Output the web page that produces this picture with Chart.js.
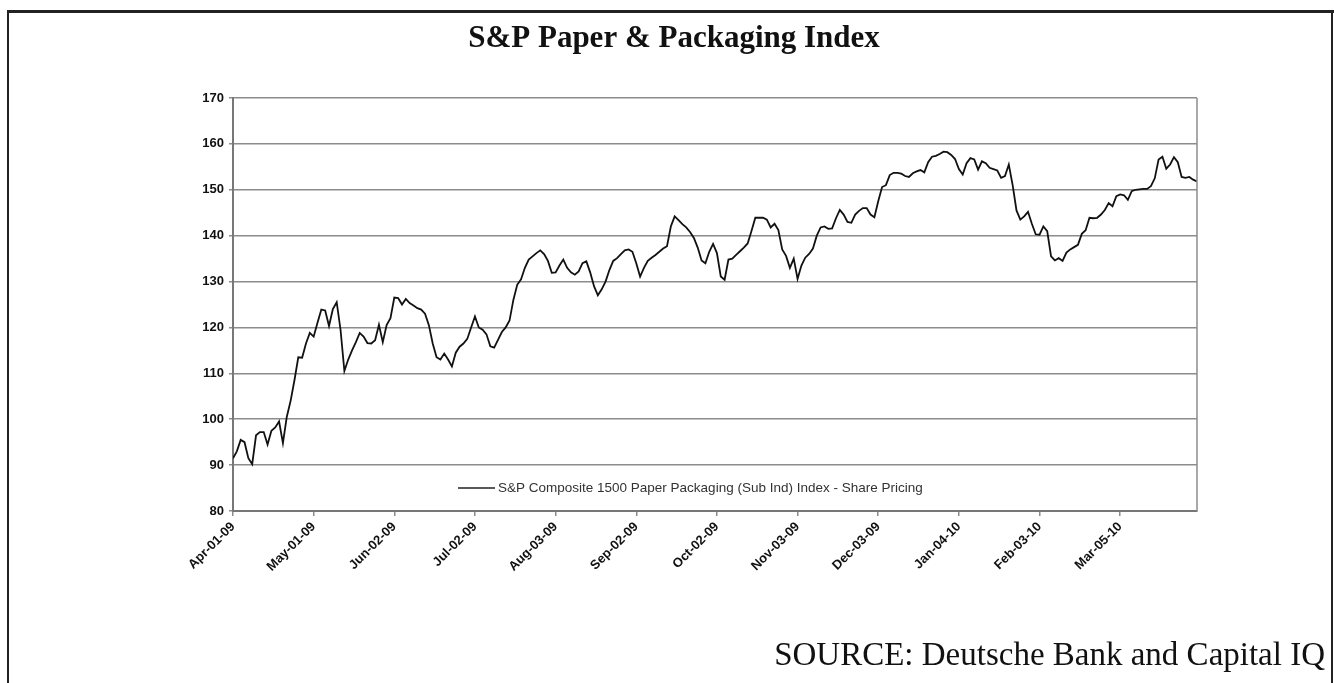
<!DOCTYPE html>
<html>
<head>
<meta charset="utf-8">
<script src="https://cdn.jsdelivr.net/npm/chart.js@4.4.1/dist/chart.umd.min.js"></script>
<style>
  html, body { margin: 0; padding: 0; background: #fff; }
  #wrap { width: 1334px; height: 683px; }
</style>
</head>
<body>
<div id="wrap"><canvas id="chart" width="1334" height="683"></canvas></div>
<script>
// --- DATA ---
const chartTitle = 'S&P Paper & Packaging Index';
const sourceText = 'SOURCE: Deutsche Bank and Capital IQ';
const seriesName = 'S&P Composite 1500 Paper Packaging (Sub Ind) Index - Share Pricing';

// tanggal label sumbu x (tiap 21 hari bursa)
const tickLabels = ['Apr-01-09', 'May-01-09', 'Jun-02-09', 'Jul-02-09', 'Aug-03-09', 'Sep-02-09',
                    'Oct-02-09', 'Nov-03-09', 'Dec-03-09', 'Jan-04-10', 'Feb-03-10', 'Mar-05-10'];
const tickIndex = [0, 21, 42, 63, 84, 105, 126, 147, 168, 189, 210, 231];

const yTicks = [80, 90, 100, 110, 120, 130, 140, 150, 160, 170];

// nilai indeks harian
const indexValues = [
    91.5, 93, 95.5, 95, 91.5, 90.2, 96.5, 97.2, 97.2, 94.5,
    97.5, 98.2, 99.5, 94.8, 100.5, 104, 108.5, 113.5, 113.4, 116.5,
    118.8, 118, 121, 123.9, 123.7, 120.3, 124, 125.5, 119.5, 110.5,
    113, 115, 116.8, 118.8, 118, 116.6, 116.5, 117.2, 120.6, 116.8,
    120.5, 122, 126.5, 126.4, 125, 126.2, 125.3, 124.8, 124.2, 123.9,
    123, 120.5, 116.5, 113.5, 113, 114.3, 113, 111.5, 114.5, 115.8,
    116.5, 117.5, 120, 122.4, 120, 119.5, 118.5, 115.9, 115.6, 117.3,
    119, 120, 121.5, 126, 129.3, 130.5, 133, 134.8, 135.5, 136.2,
    136.8, 136, 134.5, 131.9, 132, 133.5, 134.8, 133, 132, 131.5,
    132.2, 134, 134.4, 132, 129, 127, 128.3, 130, 132.5, 134.5,
    135.1, 136, 136.8, 137, 136.5, 134, 131.1, 133, 134.5, 135.2,
    135.8, 136.5, 137.2, 137.7, 142, 144.2, 143.4, 142.5, 141.8, 140.8,
    139.5, 137.4, 134.6, 134, 136.5, 138.2, 136.2, 131.1, 130.4, 134.8,
    135, 135.8, 136.6, 137.4, 138.3, 141, 143.9, 143.9, 143.9, 143.5,
    141.8, 142.6, 141.2, 137, 135.6, 133, 135, 130.6, 133.5, 135.2,
    136, 137.2, 140, 141.8, 142, 141.5, 141.6, 143.8, 145.6, 144.6,
    143, 142.8, 144.6, 145.4, 146, 146, 144.6, 144, 147.5, 150.6,
    151, 153.2, 153.7, 153.7, 153.5, 153, 152.8, 153.6, 154, 154.3,
    153.8, 156, 157.2, 157.4, 157.8, 158.3, 158.2, 157.6, 156.7, 154.5,
    153.3, 155.8, 156.9, 156.6, 154.4, 156.2, 155.8, 154.8, 154.5, 154.2,
    152.6, 153, 155.5, 151, 145.5, 143.5, 144.2, 145.2, 142.6, 140.3,
    140.2, 142, 141, 135.5, 134.6, 135.1, 134.5, 136.3, 137, 137.5,
    138, 140.4, 141.2, 143.9, 143.8, 143.9, 144.6, 145.6, 147.1, 146.4,
    148.6, 149, 148.8, 147.8, 149.7, 150, 150.1, 150.2, 150.2, 150.8,
    152.5, 156.6, 157.2, 154.6, 155.5, 157.1, 156, 152.8, 152.6, 152.8,
    152.2, 151.8
];

// --- PLUGIN: bingkai, judul, sumber, legenda di dalam plot ---
const decorPlugin = {
    id: 'decor',
    beforeDraw(chart) {
        const ctx = chart.ctx;
        ctx.save();
        ctx.fillStyle = '#fff';
        ctx.fillRect(0, 0, chart.width, chart.height);
        // bingkai luar (tanpa sisi bawah)
        ctx.fillStyle = '#222';
        ctx.fillRect(7, 10, 1327, 3);
        ctx.fillRect(7, 10, 2, 673);
        ctx.fillRect(1331, 10, 2, 673);
        ctx.restore();
    },
    afterDraw(chart) {
        const ctx = chart.ctx;
        const area = chart.chartArea;
        ctx.save();
        // garis tepi kanan area plot
        ctx.strokeStyle = '#8c8c8c';
        ctx.lineWidth = 1.5;
        ctx.beginPath();
        ctx.moveTo(area.right, area.top);
        ctx.lineTo(area.right, area.bottom);
        ctx.stroke();

        // judul
        ctx.fillStyle = '#111';
        ctx.textAlign = 'center';
        ctx.textBaseline = 'middle';
        ctx.font = 'bold 31px "Liberation Serif", "Times New Roman", serif';
        ctx.fillText(chartTitle, 674, 39);

        // sumber
        ctx.textAlign = 'right';
        ctx.font = '33px "Liberation Serif", "Times New Roman", serif';
        ctx.fillText(sourceText, 1325, 656);

        // legenda
        const ly = area.bottom - 23;
        ctx.strokeStyle = '#222';
        ctx.lineWidth = 1.5;
        ctx.beginPath();
        ctx.moveTo(458, ly);
        ctx.lineTo(495, ly);
        ctx.stroke();
        ctx.fillStyle = '#333';
        ctx.textAlign = 'left';
        ctx.font = '13.5px "Liberation Sans", Arial, sans-serif';
        ctx.fillText(seriesName, 498, ly);
        ctx.restore();
    }
};

const ctx = document.getElementById('chart').getContext('2d');
const chart = new Chart(ctx, {
    type: 'line',
    data: {
        datasets: [{
            label: seriesName,
            data: indexValues.map((v, i) => ({ x: i, y: v })),
            borderColor: '#111',
            borderWidth: 1.8,
            pointRadius: 0,
            tension: 0,
            fill: false
        }]
    },
    options: {
        responsive: false,
        animation: false,
        devicePixelRatio: 1,
        layout: { padding: { left: 173, right: 137, top: 98, bottom: 72 } },
        scales: {
            x: {
                type: 'linear',
                min: 0,
                max: indexValues.length - 1,
                afterBuildTicks: (axis) => { axis.ticks = tickIndex.map(v => ({ value: v })); },
                afterFit: (axis) => { axis.height = 100; },
                ticks: {
                    autoSkip: false,
                    maxRotation: 45,
                    minRotation: 45,
                    padding: 3,
                    color: '#111',
                    font: { family: '"Liberation Sans", Arial, sans-serif', size: 13, weight: 'bold' },
                    callback: (value) => tickLabels[tickIndex.indexOf(value)] || ''
                },
                grid: {
                    drawOnChartArea: false,
                    drawTicks: true,
                    tickLength: 5,
                    color: '#8c8c8c',
                    lineWidth: 1.5
                },
                border: { display: true, color: '#777', width: 2 }
            },
            y: {
                min: 80,
                max: 170,
                afterBuildTicks: (axis) => { axis.ticks = yTicks.map(v => ({ value: v })); },
                afterFit: (axis) => { axis.width = 60; },
                ticks: {
                    padding: 5,
                    color: '#111',
                    font: { family: '"Liberation Sans", Arial, sans-serif', size: 13, weight: 'bold' }
                },
                grid: {
                    color: '#8c8c8c',
                    lineWidth: 1.5,
                    tickLength: 4
                },
                border: { display: true, color: '#777', width: 2 }
            }
        },
        plugins: {
            legend: { display: false },
            tooltip: { enabled: false },
            title: { display: false }
        }
    },
    plugins: [decorPlugin]
});
</script>
</body>
</html>
